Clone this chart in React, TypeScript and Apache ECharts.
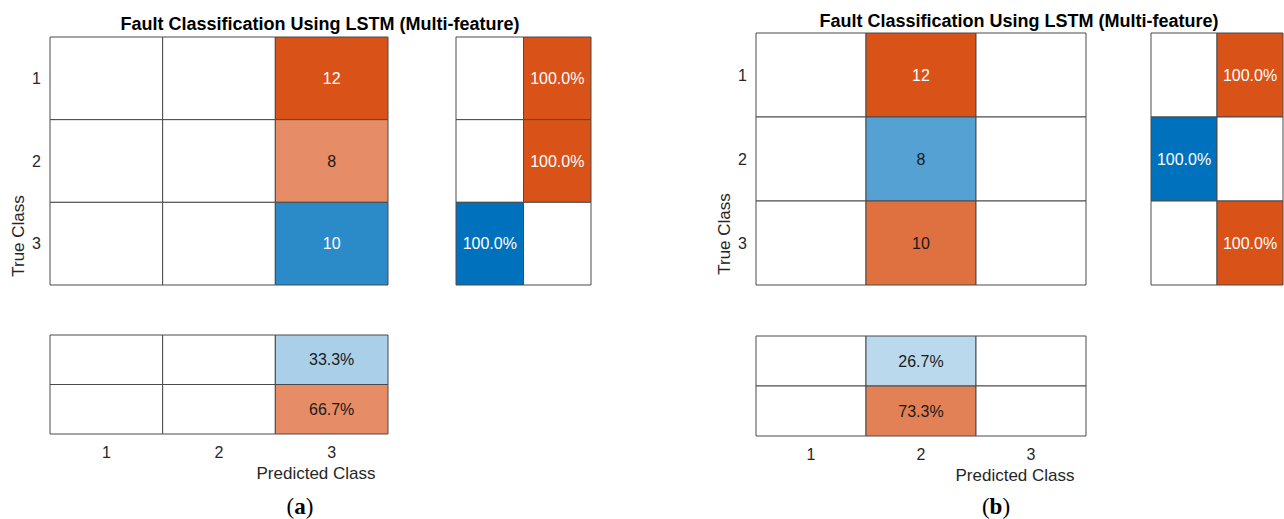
import React, { useEffect, useRef } from 'react';
import * as echarts from 'echarts';

// ---------- data ----------
const classes = ['1', '2', '3'];
const summaryKinds = ['correct', 'incorrect'];
const titleText = 'Fault Classification Using LSTM (Multi-feature)';
const xAxisName = 'Predicted Class';
const yAxisName = 'True Class';
const panelTags = ['a', 'b'];

// confusion matrices: rows = true class, columns = predicted class
const confA = [
  [0, 0, 12],
  [0, 0, 8],
  [0, 0, 10],
];
const confB = [
  [0, 12, 0],
  [0, 8, 0],
  [0, 10, 0],
];
// row summaries (%): [correct, incorrect] per true class
const rowSumA = [
  [0, 100],
  [0, 100],
  [100, 0],
];
const rowSumB = [
  [0, 100],
  [100, 0],
  [0, 100],
];
// column summaries (%) per predicted class
const colCorrectA = [0, 0, 33.3];
const colIncorrectA = [0, 0, 66.7];
const colCorrectB = [0, 26.7, 0];
const colIncorrectB = [0, 73.3, 0];

// ---------- styling helpers ----------
const BLUE = [0, 114, 189];
const ORANGE = [217, 83, 25];
const mixRGB = (base: number[], t: number) => base.map((b) => Math.round(255 + (b - 255) * t));
const shade = (base: number[], t: number) => {
  const c = mixRGB(base, t);
  return `rgb(${c[0]},${c[1]},${c[2]})`;
};
const labelColor = (base: number[], t: number) => {
  const c = mixRGB(base, t);
  const lum = 0.299 * c[0] + 0.587 * c[1] + 0.114 * c[2];
  return lum < 128 ? '#ffffff' : '#1a1a1a';
};

const FONT = "'Liberation Sans', Arial, Helvetica, sans-serif";
const SERIF = "'Liberation Serif', 'DejaVu Serif', serif";
const TEXT = '#262626';
const BORDER = '#4a4a4a';

type Box = { left: number; top: number; width: number; height: number };
const layouts: { main: Box; row: Box; col: Box; title: number[]; yName: number[]; xName: number[]; tag: number[] }[] = [
  {
    main: { left: 50, top: 37, width: 338, height: 248 },
    row: { left: 456, top: 37, width: 135, height: 248 },
    col: { left: 50, top: 335, width: 338, height: 99 },
    title: [320, 24],
    yName: [18, 236],
    xName: [316, 473],
    tag: [300, 506],
  },
  {
    main: { left: 756, top: 33, width: 330, height: 252 },
    row: { left: 1151, top: 33, width: 132, height: 252 },
    col: { left: 756, top: 336, width: 330, height: 100 },
    title: [1019, 21],
    yName: [724, 234],
    xName: [1015, 475],
    tag: [996, 506],
  },
];

type Cell = { x: number; y: number; v: number; text: string; fill: string; color: string };

function cellSeries(cells: Cell[], axisIndex: number) {
  return {
    type: 'custom',
    xAxisIndex: axisIndex,
    yAxisIndex: axisIndex,
    data: cells.map((c) => [c.x, c.y, c.v]),
    silent: true,
    renderItem: (params: any, api: any) => {
      const cell = cells[params.dataIndex];
      const c = api.coord([api.value(0), api.value(1)]);
      const s = api.size([1, 1]);
      return {
        type: 'group',
        children: [
          {
            type: 'rect',
            shape: { x: c[0] - s[0] / 2, y: c[1] - s[1] / 2, width: s[0], height: s[1] },
            style: { fill: cell.fill, stroke: BORDER, lineWidth: 1 },
          },
          {
            type: 'text',
            x: c[0],
            y: c[1],
            style: {
              text: cell.text,
              fill: cell.color,
              font: `16px ${FONT}`,
              align: 'center',
              verticalAlign: 'middle',
            },
          },
        ],
      };
    },
  };
}

function makeCell(x: number, y: number, v: number, base: number[], t: number, text: string): Cell {
  return {
    x,
    y,
    v,
    text: v ? text : '',
    fill: v ? shade(base, t) : '#ffffff',
    color: v ? labelColor(base, t) : TEXT,
  };
}

function buildOption() {
  const grids: any[] = [];
  const xAxes: any[] = [];
  const yAxes: any[] = [];
  const series: any[] = [];
  const graphics: any[] = [];

  const hiddenAxis = {
    axisLine: { show: false },
    axisTick: { show: false },
    splitLine: { show: false },
  };

  const panels = [
    { conf: confA, rowSum: rowSumA, colC: colCorrectA, colI: colIncorrectA },
    { conf: confB, rowSum: rowSumB, colC: colCorrectB, colI: colIncorrectB },
  ];

  panels.forEach((p, pi) => {
    const L = layouts[pi];
    const base = grids.length;

    // main matrix
    grids.push({ ...L.main });
    xAxes.push({ type: 'category', data: classes, gridIndex: base, ...hiddenAxis, axisLabel: { show: false } });
    yAxes.push({
      type: 'category', data: classes, gridIndex: base, inverse: true, ...hiddenAxis,
      axisLabel: { show: true, fontSize: 16, color: TEXT, fontFamily: FONT, margin: 9 },
    });
    const maxV = Math.max(...p.conf.flat());
    const mainCells: Cell[] = [];
    p.conf.forEach((row, i) =>
      row.forEach((v, j) => {
        mainCells.push(makeCell(j, i, v, i === j ? BLUE : ORANGE, v / maxV, String(v)));
      })
    );
    series.push(cellSeries(mainCells, base));

    // row summary
    grids.push({ ...L.row });
    xAxes.push({ type: 'category', data: summaryKinds, gridIndex: base + 1, ...hiddenAxis, axisLabel: { show: false } });
    yAxes.push({ type: 'category', data: classes, gridIndex: base + 1, inverse: true, ...hiddenAxis, axisLabel: { show: false } });
    const rowCells: Cell[] = [];
    p.rowSum.forEach((r, i) =>
      r.forEach((v, k) => {
        rowCells.push(makeCell(k, i, v, k === 0 ? BLUE : ORANGE, v / 100, v.toFixed(1) + '%'));
      })
    );
    series.push(cellSeries(rowCells, base + 1));

    // column summary
    grids.push({ ...L.col });
    xAxes.push({
      type: 'category', data: classes, gridIndex: base + 2, ...hiddenAxis,
      axisLabel: { show: true, fontSize: 16, color: TEXT, fontFamily: FONT, margin: 10 },
    });
    yAxes.push({ type: 'category', data: summaryKinds, gridIndex: base + 2, inverse: true, ...hiddenAxis, axisLabel: { show: false } });
    const colCells: Cell[] = [];
    [p.colC, p.colI].forEach((arr, k) =>
      arr.forEach((v, j) => {
        colCells.push(makeCell(j, k, v, k === 0 ? BLUE : ORANGE, v / 100, v.toFixed(1) + '%'));
      })
    );
    series.push(cellSeries(colCells, base + 2));

    // texts
    graphics.push({
      type: 'text', x: L.title[0], y: L.title[1],
      style: { text: titleText, font: `bold 18px ${FONT}`, fill: '#000', align: 'center', verticalAlign: 'middle' },
    });
    graphics.push({
      type: 'text', x: L.yName[0], y: L.yName[1], rotation: Math.PI / 2,
      style: { text: yAxisName, font: `17px ${FONT}`, fill: TEXT, align: 'center', verticalAlign: 'middle' },
    });
    graphics.push({
      type: 'text', x: L.xName[0], y: L.xName[1],
      style: { text: xAxisName, font: `17px ${FONT}`, fill: TEXT, align: 'center', verticalAlign: 'middle' },
    });
    graphics.push({
      type: 'text', x: L.tag[0], y: L.tag[1],
      style: {
        text: `{p|(}{b|${panelTags[pi]}}{p|)}`,
        align: 'center', verticalAlign: 'middle',
        rich: {
          p: { fontFamily: SERIF, fontSize: 23, fill: '#000', lineHeight: 23 },
          b: { fontFamily: SERIF, fontSize: 23, fontWeight: 'bold', fill: '#000', lineHeight: 23 },
        },
      },
    });
  });

  return {
    animation: false,
    backgroundColor: '#ffffff',
    textStyle: { fontFamily: FONT },
    grid: grids,
    xAxis: xAxes,
    yAxis: yAxes,
    series,
    graphic: graphics,
  };
}

export default function App() {
  const ref = useRef<HTMLDivElement>(null);
  useEffect(() => {
    if (!ref.current) return;
    const chart = echarts.init(ref.current, undefined, { renderer: 'svg' });
    chart.setOption(buildOption() as any);
    return () => chart.dispose();
  }, []);
  return (
    <div
      ref={ref}
      style={{ position: 'absolute', left: 0, top: 0, width: 1284, height: 519, background: '#fff' }}
    />
  );
}
